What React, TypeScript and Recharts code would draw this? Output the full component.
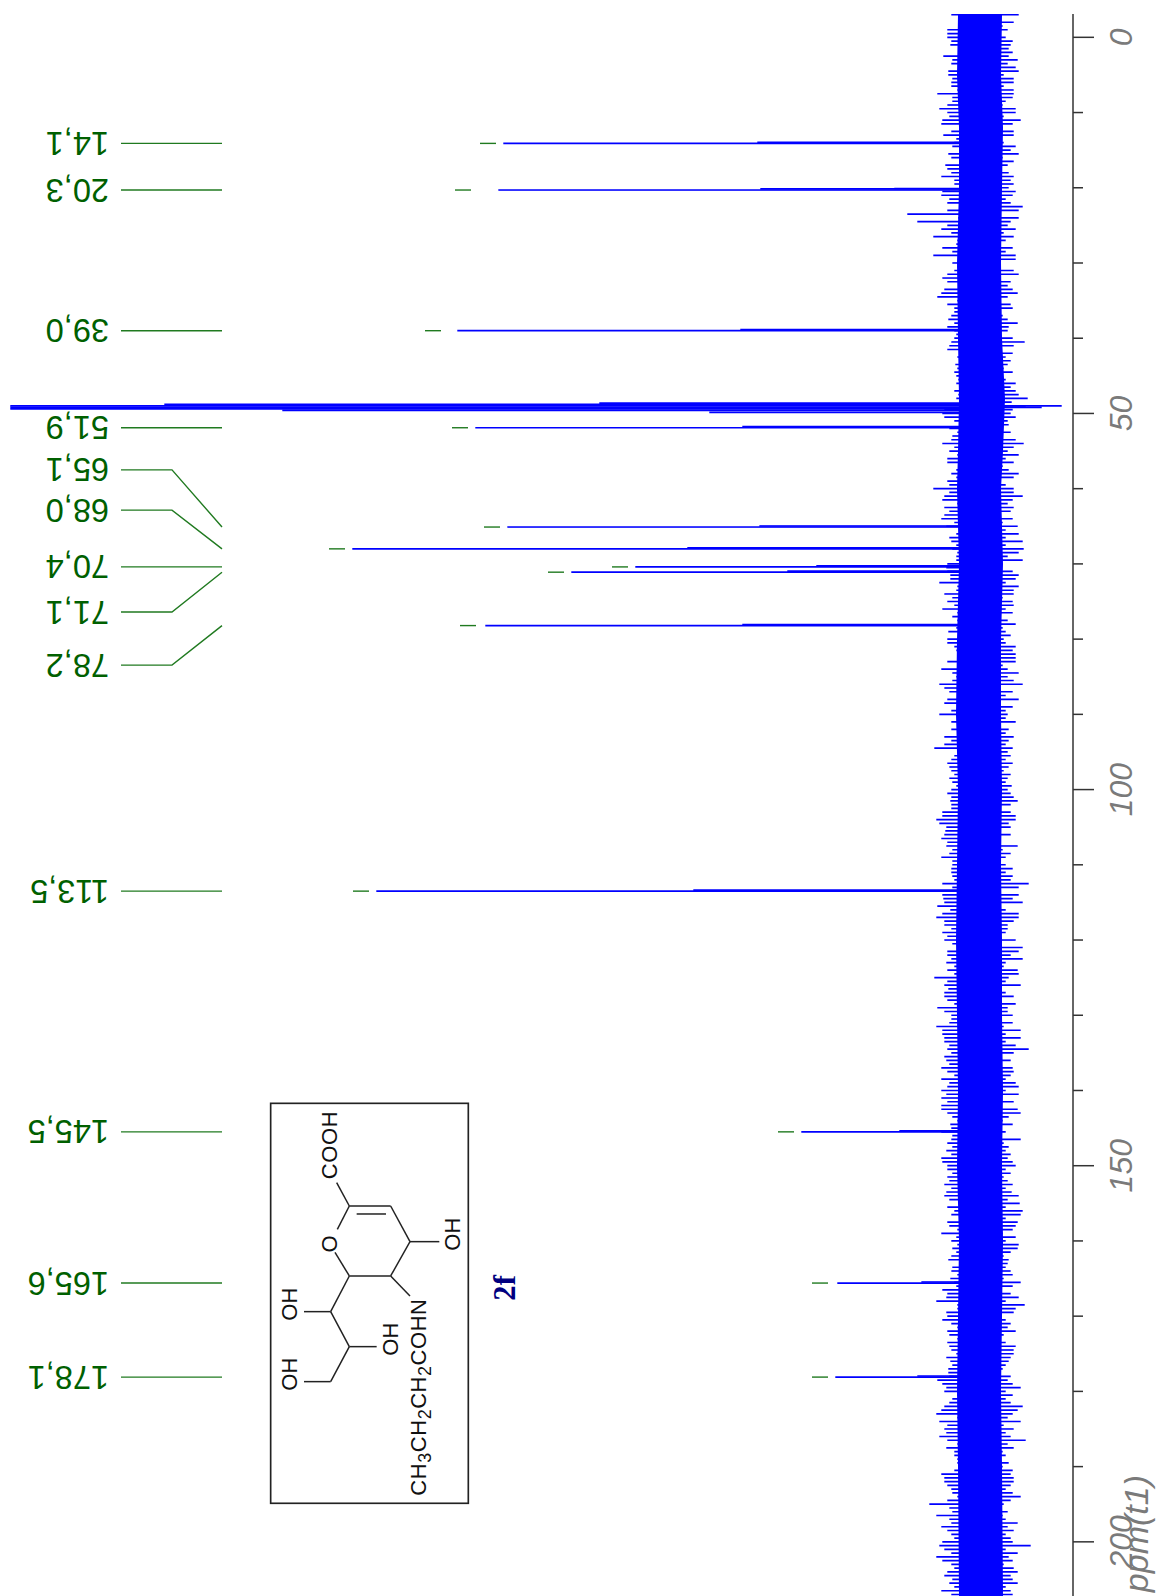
import { Area, Bar, ComposedChart, Line, XAxis, YAxis } from 'recharts';

const WIDTH = 1158;
const HEIGHT = 1596;

// picked peaks, ppm and labels
const peakPpm = [14.1, 20.3, 39.0, 51.9, 65.1, 68.0, 70.4, 71.1, 78.2, 113.5, 145.5, 165.6, 178.1];
const peakLabels = ['14,1', '20,3', '39,0', '51,9', '65,1', '68,0', '70,4', '71,1', '78,2', '113,5', '145,5', '165,6', '178,1'];
const peakHeights = [477, 482, 523, 505, 473, 628, 345, 409, 495, 604, 179, 143, 145];
const peakShoulders = [223, 220, 240, 238, 221, 293, 164, 193, 238, 287, 81, 59, 63];
// gap between a peak tip and its green marker
const markerGaps = [8, 28, 17, 8, 8, 8, 8, 8, 10, 8, 8, 10, 8];
// where each label sits on the ppm scale (spread out where peaks crowd)
const labelPpm = [14.1, 20.3, 39.0, 51.9, 57.5, 62.85, 70.4, 76.4, 83.45, 113.5, 145.5, 165.6, 178.1];

// solvent multiplet around 49 ppm: [ppm, low, high]
const solventRows = [
  [48.62, 0, 381], [48.8, 0, 816], [49.0, -80, 970], [49.2, -60, 970],
  [49.4, 0, 970], [49.6, 0, 698], [49.85, 0, 271],
];

// noise envelope every 0.5 ppm from -3 ppm, read strip by strip
const noiseUp = [
  29, 19, 21, 14, 33, 33, 33, 29, 30, 16, 19, 37, 28, 29, 19, 32, 32, 28, 29, 29,
  23, 43, 28, 28, 33, 41, 33, 31, 38, 39, 19, 29, 37, 24, 26, 28, 18, 32, 29, 18,
  35, 33, 29, 39, 26, 26, 19, 38, 39, 31, 33, 16, 33, 73, 22, 63, 33, 39, 29, 47,
  23, 24, 38, 28, 47, 19, 28, 23, 26, 33, 38, 33, 19, 36, 39, 43, 23, 33, 26, 26,
  29, 32, 26, 33, 26, 24, 26, 29, 31, 33, 21, 23, 21, 25, 23, 26, 24, 22, 24, 21,
  26, 22, 24, 21,
  21, 36, 38, 36, 26, 19, 31, 23, 28, 29, 38, 26, 31, 23, 33, 33, 19, 24, 29, 24,
  33, 31, 47, 31, 36, 38, 23, 36, 31, 36, 39, 26, 34, 18, 24, 31, 29, 24, 28, 23,
  24, 24, 33, 34, 33, 30, 30, 41, 23, 24, 36, 28, 33, 26, 38, 23, 28, 23, 21, 24,
  32, 19, 33, 33, 26, 24, 23, 18, 33, 23, 39, 28, 24, 28, 41, 36, 31, 23, 33, 36,
  23, 29, 41, 23, 29, 23, 29, 23, 36, 29, 36, 46, 23, 26, 29, 33, 31, 29, 26, 31,
  28, 24, 29, 33,
  29, 30, 29, 29, 38, 38, 44, 41, 34, 35, 36, 39, 33, 34, 28, 31, 39, 28, 28, 29,
  29, 28, 26, 38, 28, 34, 38, 37, 36, 43, 30, 38, 44, 36, 36, 29, 38, 33, 36, 28,
  23, 33, 33, 29, 34, 26, 33, 26, 46, 33, 36, 32, 36, 36, 33, 26, 43, 36, 29, 29,
  31, 44, 38, 38, 36, 36, 31, 33, 29, 36, 34, 31, 39, 33, 26, 39, 31, 33, 39, 34,
  39, 33, 39, 39, 33, 28, 23, 30, 29, 39, 28, 29, 33, 28, 34, 29, 39, 38, 33, 33,
  28, 33, 31, 36, 29, 34,
  36, 31, 21, 33, 26, 29, 21, 33, 31, 23, 39, 24, 29, 23, 28, 24, 29, 32, 13, 28,
  29, 23, 30, 26, 24, 38, 33, 34, 44, 23, 23, 34, 33, 38, 29, 23, 33, 31, 23, 33,
  31, 29, 24, 34, 30, 28, 32, 32, 31, 43, 38, 34, 36, 23, 28, 31, 36, 39, 44, 23,
  41, 33, 36, 34, 41, 33, 23, 34, 26, 26, 23, 23, 21, 26, 39, 36, 36, 33, 29, 28,
  23, 33, 51, 31, 28, 44, 31, 29, 39, 33, 29, 26, 38, 41, 36, 29, 44, 38, 29, 26,
  33, 36, 28, 31, 26, 39, 29, 33, 36, 30, 33, 28,
];
const noiseDown = [
  37, 19, 32, 21, 26, 19, 24, 31, 29, 27, 31, 27, 36, 26, 34, 37, 22, 32, 32, 22,
  32, 32, 31, 24, 21, 34, 34, 22, 39, 31, 19, 32, 32, 19, 22, 34, 29, 37, 21, 32,
  26, 16, 27, 32, 29, 32, 27, 34, 31, 24, 29, 41, 37, 16, 37, 29, 26, 34, 22, 32,
  24, 16, 31, 24, 34, 34, 14, 19, 32, 37, 19, 29, 26, 31, 36, 26, 16, 29, 31, 12,
  21, 26, 36, 27, 26, 14, 31, 43, 32, 14, 31, 24, 29, 26, 22, 31, 19, 24, 34, 29,
  34, 37, 46, 30,
  44, 31, 29, 34, 26, 27, 14, 29, 21, 34, 42, 32, 26, 37, 24, 32, 21, 27, 37, 32,
  17, 24, 32, 32, 41, 31, 26, 32, 29, 17, 31, 21, 36, 24, 37, 24, 41, 24, 42, 37,
  26, 41, 16, 11, 31, 37, 34, 24, 37, 32, 32, 21, 31, 32, 24, 31, 17, 26, 34, 21,
  24, 29, 22, 24, 34, 31, 34, 34, 34, 21, 26, 37, 26, 32, 41, 14, 31, 24, 37, 17,
  31, 24, 26, 24, 34, 14, 27, 24, 32, 27, 24, 31, 26, 29, 24, 31, 27, 22, 29, 26,
  24, 30, 26, 29,
  32, 36, 29, 14, 29, 34, 34, 27, 29, 17, 29, 14, 12, 36, 21, 29, 24, 19, 24, 31,
  24, 31, 29, 47, 37, 17, 37, 31, 41, 12, 24, 37, 37, 32, 26, 26, 24, 19, 34, 19,
  41, 37, 29, 41, 24, 22, 36, 37, 27, 24, 39, 16, 24, 32, 14, 34, 26, 26, 31, 14,
  31, 22, 39, 24, 39, 24, 34, 47, 32, 17, 29, 19, 31, 32, 29, 24, 34, 37, 24, 37,
  14, 32, 17, 36, 39, 27, 21, 31, 16, 24, 17, 39, 22, 27, 24, 29, 26, 31, 34, 24,
  29, 22, 26, 31, 24, 30,
  37, 26, 38, 24, 41, 39, 24, 36, 34, 31, 21, 34, 24, 37, 36, 29, 22, 27, 26, 24,
  29, 31, 22, 39, 31, 19, 29, 37, 24, 43, 34, 32, 19, 24, 29, 26, 34, 22, 17, 24,
  34, 32, 32, 29, 27, 24, 21, 14, 29, 26, 31, 39, 24, 31, 24, 29, 41, 36, 31, 26,
  39, 22, 32, 24, 29, 44, 26, 32, 21, 24, 19, 27, 21, 31, 29, 32, 32, 29, 24, 31,
  39, 29, 22, 19, 26, 21, 24, 36, 26, 32, 24, 29, 31, 49, 24, 36, 27, 31, 22, 32,
  36, 29, 31, 36, 24, 29, 31, 26,
];

// solid core of the noise band
const corePpm = [-3, 5, 12, 20, 30, 40, 48, 55, 60, 70, 80, 90, 100, 110, 120, 130, 140, 150, 160, 170, 180, 190, 207.2];
const coreUp = [23, 24, 22, 22, 24, 23, 22, 23, 24, 22, 24, 25, 23, 24, 25, 24, 23, 24, 22, 23, 24, 23, 22];
const coreDown = [21, 20, 22, 21, 20, 21, 24, 22, 20, 22, 20, 20, 21, 20, 21, 21, 22, 21, 22, 21, 20, 21, 22];

const axisTicks = [0, 10, 20, 30, 40, 50, 60, 70, 80, 90, 100, 110, 120, 130, 140, 150, 160, 170, 180, 190, 200];
const tickLabels = [0, 50, 100, 150, 200];

const noiseRows = noiseUp.map((up, i) => ({ ppm: -3 + i * 0.5, band: [-(noiseDown[i] ?? 22), up] }));
const peakRows = peakPpm.flatMap((ppm, i) => [
  { ppm, band: [0, peakHeights[i]] },
  { ppm: ppm - 0.14, band: [0, peakShoulders[i]] },
]);
const extraRows = [{ ppm: 20.1, band: [0, 86] }];
const solvent = solventRows.map(([ppm, low, high]) => ({ ppm, band: [low, high] }));
const spectrumRows = [...noiseRows, ...peakRows, ...extraRows, ...solvent];
const coreRows = corePpm.map((ppm, i) => ({ ppm, core: [-coreDown[i], coreUp[i]] }));

const GREEN = '#207a20';
const LABEL = '#006000';
const FONT = '"Liberation Sans", Arial, sans-serif';

function PpmTick({ x, y, payload }: any) {
  const major = tickLabels.includes(payload.value);
  return (
    <g>
      <line x1={x} x2={x + (major ? 21 : 10)} y1={y} y2={y} stroke="#333" strokeWidth={1.5} />
      {major && (
        <text
          x={1132}
          y={y}
          transform={`rotate(-90 1132 ${y})`}
          textAnchor="middle"
          fontFamily={FONT}
          fontStyle="italic"
          fontSize={32}
          fill="#7a7a7a"
        >
          {payload.value}
        </text>
      )}
    </g>
  );
}

function PeakLabel({ x, y, index, text }: any) {
  if (index !== 0) return <g />;
  const tx = x - 12;
  const ty = y - 11.5;
  return (
    <text x={tx} y={ty} transform={`rotate(180 ${tx} ${ty})`} fontFamily={FONT} fontSize={32.5} fill={LABEL}>
      {text}
    </text>
  );
}

// compound 2f, inset at the lower left of the spectrum
function Molecule() {
  const bonds = [
    [230, 278, 268, 348], [268, 348, 392, 348], [290, 372, 378, 372], [392, 348, 450, 455],
    [450, 455, 538, 455], [450, 455, 392, 558], [392, 558, 268, 558], [268, 558, 225, 487],
    [268, 348, 232, 418], [392, 558, 450, 618], [268, 558, 212, 665], [212, 665, 132, 665],
    [212, 665, 268, 770], [268, 770, 350, 770], [268, 770, 212, 875], [212, 875, 132, 875],
  ];
  const atoms: [string, number, number][] = [
    ['OH', 600, 482], ['OH', 112, 692], ['OH', 415, 797], ['OH', 112, 902],
  ];
  return (
    <g transform="translate(260 1090) scale(0.3333)" fontFamily={FONT} fontSize={66} fill="#111">
      <rect x={32} y={40} width={593} height={1200} fill="none" stroke="#222" strokeWidth={5} />
      {bonds.map(([x1, y1, x2, y2], i) => (
        <line key={i} x1={x1} y1={y1} x2={x2} y2={y2} stroke="#222" strokeWidth={4.5} />
      ))}
      {atoms.map(([t, x, y], i) => (
        <text key={i} x={x} y={y} transform={`rotate(-90 ${x} ${y})`}>{t}</text>
      ))}
      <text x={230} y={268} transform="rotate(-90 230 268)" textLength={204}>COOH</text>
      <text x={230} y={462} transform="rotate(-90 230 462)" textAnchor="middle">O</text>
      <text x={498} y={1217} transform="rotate(-90 498 1217)" textLength={590}>
        CH<tspan fontSize={54} dy={14}>3</tspan>
        <tspan dy={-14}>CH</tspan><tspan fontSize={54} dy={14}>2</tspan>
        <tspan dy={-14}>CH</tspan><tspan fontSize={54} dy={14}>2</tspan>
        <tspan dy={-14}>COHN</tspan>
      </text>
      <text
        x={765}
        y={632}
        transform="rotate(-90 765 632)"
        fontFamily='"Liberation Serif", serif'
        fontWeight="bold"
        fontSize={92}
        fill="#000080"
      >
        2f
      </text>
    </g>
  );
}

export default function App() {
  return (
    <div style={{ position: 'absolute', left: 0, top: 0, width: WIDTH, height: HEIGHT, overflow: 'hidden' }}>
      <ComposedChart
        width={WIDTH}
        height={HEIGHT}
        data={spectrumRows}
        layout="vertical"
        margin={{ top: 14, right: 0, bottom: 0, left: 0 }}
      >
        <XAxis type="number" hide reversed domain={[-92, 981]} allowDataOverflow />
        <YAxis
          type="number"
          dataKey="ppm"
          orientation="right"
          width={85}
          domain={[-3.1, 207.2]}
          allowDataOverflow
          ticks={axisTicks}
          interval={0}
          tickSize={0}
          tickMargin={0}
          tickLine={false}
          axisLine={{ stroke: '#333', strokeWidth: 1.5 }}
          tick={<PpmTick />}
        />
        <Area
          data={coreRows}
          dataKey="core"
          type="linear"
          stroke="none"
          fill="#0000ff"
          fillOpacity={1}
          dot={false}
          activeDot={false}
          isAnimationActive={false}
        />
        <Bar dataKey="band" fill="#0000ff" stroke="#0000ff" strokeWidth={1.4} barSize={1} isAnimationActive={false} />
        {peakPpm.map((ppm, i) => {
          const leader = labelPpm[i] === ppm
            ? [{ ppm, v: 860 }, { ppm, v: 759 }]
            : [{ ppm: labelPpm[i], v: 860 }, { ppm: labelPpm[i], v: 809 }, { ppm, v: 759 }];
          return (
            <Line
              key={`leader-${ppm}`}
              data={leader}
              dataKey="v"
              stroke={GREEN}
              strokeWidth={1.4}
              dot={false}
              activeDot={false}
              isAnimationActive={false}
              label={(p: any) => <PeakLabel {...p} text={peakLabels[i]} />}
            />
          );
        })}
        {peakPpm.map((ppm, i) => (
          <Line
            key={`dash-${ppm}`}
            data={[
              { ppm, v: peakHeights[i] + markerGaps[i] },
              { ppm, v: peakHeights[i] + markerGaps[i] + 16 },
            ]}
            dataKey="v"
            stroke={GREEN}
            strokeWidth={1.4}
            dot={false}
            activeDot={false}
            isAnimationActive={false}
          />
        ))}
        <Molecule />
        <text
          x={1148}
          y={1475}
          transform="rotate(-90 1148 1475)"
          textAnchor="end"
          fontFamily={FONT}
          fontStyle="italic"
          fontSize={34}
          fill="#7a7a7a"
        >
          ppm(t1)
        </text>
      </ComposedChart>
    </div>
  );
}
